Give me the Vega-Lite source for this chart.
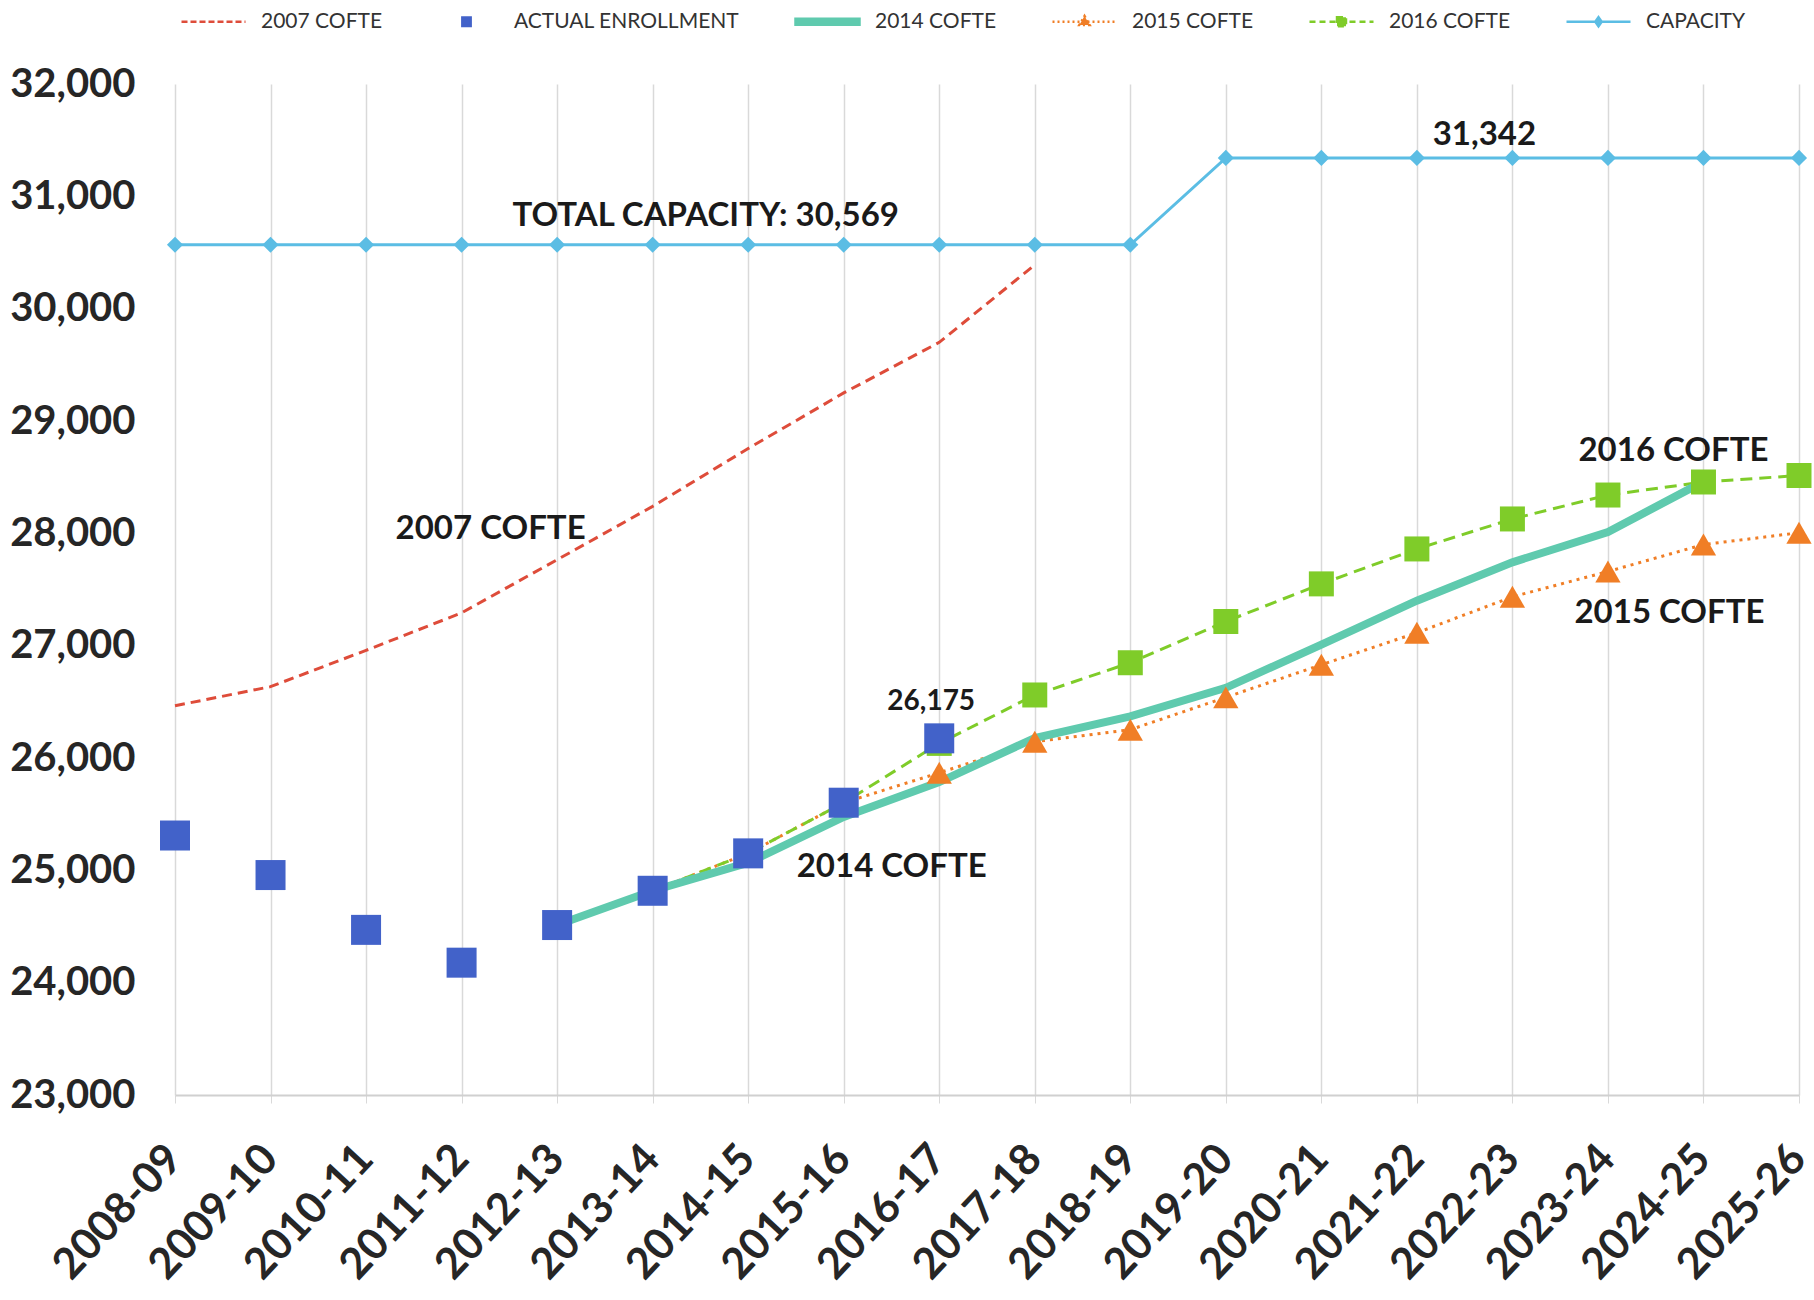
{
  "$schema": "https://vega.github.io/schema/vega-lite/v6.json",
  "width": 1624,
  "height": 1011,
  "autosize": {"type": "none"},
  "padding": {"left": 175, "top": 84, "right": 15, "bottom": 205},
  "background": "white",
  "config": {
    "view": {"stroke": null},
    "font": "Lato"
  },
  "datasets": {
    "series": [
      {"p": "2008-09", "s": "2007 COFTE", "v": 26465},
      {"p": "2009-10", "s": "2007 COFTE", "v": 26635},
      {"p": "2010-11", "s": "2007 COFTE", "v": 26958},
      {"p": "2011-12", "s": "2007 COFTE", "v": 27292},
      {"p": "2012-13", "s": "2007 COFTE", "v": 27765},
      {"p": "2013-14", "s": "2007 COFTE", "v": 28240},
      {"p": "2014-15", "s": "2007 COFTE", "v": 28755},
      {"p": "2015-16", "s": "2007 COFTE", "v": 29250},
      {"p": "2016-17", "s": "2007 COFTE", "v": 29700},
      {"p": "2017-18", "s": "2007 COFTE", "v": 30390},

      {"p": "2008-09", "s": "ACTUAL ENROLLMENT", "v": 25310},
      {"p": "2009-10", "s": "ACTUAL ENROLLMENT", "v": 24958},
      {"p": "2010-11", "s": "ACTUAL ENROLLMENT", "v": 24470},
      {"p": "2011-12", "s": "ACTUAL ENROLLMENT", "v": 24178},
      {"p": "2012-13", "s": "ACTUAL ENROLLMENT", "v": 24513},
      {"p": "2013-14", "s": "ACTUAL ENROLLMENT", "v": 24818},
      {"p": "2014-15", "s": "ACTUAL ENROLLMENT", "v": 25151},
      {"p": "2015-16", "s": "ACTUAL ENROLLMENT", "v": 25602},
      {"p": "2016-17", "s": "ACTUAL ENROLLMENT", "v": 26175},

      {"p": "2012-13", "s": "2014 COFTE", "v": 24513},
      {"p": "2013-14", "s": "2014 COFTE", "v": 24818},
      {"p": "2014-15", "s": "2014 COFTE", "v": 25068},
      {"p": "2015-16", "s": "2014 COFTE", "v": 25475},
      {"p": "2016-17", "s": "2014 COFTE", "v": 25786},
      {"p": "2017-18", "s": "2014 COFTE", "v": 26178},
      {"p": "2018-19", "s": "2014 COFTE", "v": 26370},
      {"p": "2019-20", "s": "2014 COFTE", "v": 26625},
      {"p": "2020-21", "s": "2014 COFTE", "v": 27010},
      {"p": "2021-22", "s": "2014 COFTE", "v": 27400},
      {"p": "2022-23", "s": "2014 COFTE", "v": 27742},
      {"p": "2023-24", "s": "2014 COFTE", "v": 28012},
      {"p": "2024-25", "s": "2014 COFTE", "v": 28460},

      {"p": "2012-13", "s": "2015 COFTE", "v": 24513},
      {"p": "2013-14", "s": "2015 COFTE", "v": 24818},
      {"p": "2014-15", "s": "2015 COFTE", "v": 25151},
      {"p": "2015-16", "s": "2015 COFTE", "v": 25602},
      {"p": "2016-17", "s": "2015 COFTE", "v": 25868},
      {"p": "2017-18", "s": "2015 COFTE", "v": 26145},
      {"p": "2018-19", "s": "2015 COFTE", "v": 26252},
      {"p": "2019-20", "s": "2015 COFTE", "v": 26540},
      {"p": "2020-21", "s": "2015 COFTE", "v": 26830},
      {"p": "2021-22", "s": "2015 COFTE", "v": 27115},
      {"p": "2022-23", "s": "2015 COFTE", "v": 27435},
      {"p": "2023-24", "s": "2015 COFTE", "v": 27660},
      {"p": "2024-25", "s": "2015 COFTE", "v": 27900},
      {"p": "2025-26", "s": "2015 COFTE", "v": 28005},

      {"p": "2012-13", "s": "2016 COFTE", "v": 24513},
      {"p": "2013-14", "s": "2016 COFTE", "v": 24818},
      {"p": "2014-15", "s": "2016 COFTE", "v": 25151},
      {"p": "2015-16", "s": "2016 COFTE", "v": 25602},
      {"p": "2016-17", "s": "2016 COFTE", "v": 26130},
      {"p": "2017-18", "s": "2016 COFTE", "v": 26561},
      {"p": "2018-19", "s": "2016 COFTE", "v": 26848},
      {"p": "2019-20", "s": "2016 COFTE", "v": 27215},
      {"p": "2020-21", "s": "2016 COFTE", "v": 27550},
      {"p": "2021-22", "s": "2016 COFTE", "v": 27861},
      {"p": "2022-23", "s": "2016 COFTE", "v": 28128},
      {"p": "2023-24", "s": "2016 COFTE", "v": 28341},
      {"p": "2024-25", "s": "2016 COFTE", "v": 28457},
      {"p": "2025-26", "s": "2016 COFTE", "v": 28515},

      {"p": "2008-09", "s": "CAPACITY", "v": 30569},
      {"p": "2009-10", "s": "CAPACITY", "v": 30569},
      {"p": "2010-11", "s": "CAPACITY", "v": 30569},
      {"p": "2011-12", "s": "CAPACITY", "v": 30569},
      {"p": "2012-13", "s": "CAPACITY", "v": 30569},
      {"p": "2013-14", "s": "CAPACITY", "v": 30569},
      {"p": "2014-15", "s": "CAPACITY", "v": 30569},
      {"p": "2015-16", "s": "CAPACITY", "v": 30569},
      {"p": "2016-17", "s": "CAPACITY", "v": 30569},
      {"p": "2017-18", "s": "CAPACITY", "v": 30569},
      {"p": "2018-19", "s": "CAPACITY", "v": 30569},
      {"p": "2019-20", "s": "CAPACITY", "v": 31342},
      {"p": "2020-21", "s": "CAPACITY", "v": 31342},
      {"p": "2021-22", "s": "CAPACITY", "v": 31342},
      {"p": "2022-23", "s": "CAPACITY", "v": 31342},
      {"p": "2023-24", "s": "CAPACITY", "v": 31342},
      {"p": "2024-25", "s": "CAPACITY", "v": 31342},
      {"p": "2025-26", "s": "CAPACITY", "v": 31342}
    ]
  },
  "data": {"name": "series"},
  "encoding": {
    "x": {
      "field": "p",
      "type": "ordinal",
      "sort": null,
      "scale": {"type": "point", "padding": 0,
        "domain": ["2008-09","2009-10","2010-11","2011-12","2012-13","2013-14","2014-15","2015-16","2016-17","2017-18","2018-19","2019-20","2020-21","2021-22","2022-23","2023-24","2024-25","2025-26"]},
      "axis": {
        "title": null,
        "labelAngle": -47,
        "labelAlign": "right",
        "labelBaseline": "top",
        "labelFont": "Lato",
        "labelFontWeight": "bold",
        "labelFontSize": 43,
        "labelColor": "#262626",
        "labelPadding": 34,
        "labelOffset": -16,
        "grid": true,
        "gridColor": "#d9d9d9",
        "gridWidth": 1.5,
        "domainColor": "#d0d0d0",
        "domainWidth": 2,
        "ticks": true,
        "tickColor": "#d9d9d9",
        "tickSize": 8,
        "labelOverlap": false,
        "labelBound": false
      }
    },
    "y": {
      "field": "v",
      "type": "quantitative",
      "scale": {"domain": [23000, 32000], "nice": false, "zero": false},
      "axis": {
        "title": null,
        "values": [23000,24000,25000,26000,27000,28000,29000,30000,31000,32000],
        "format": ",d",
        "grid": false,
        "domain": false,
        "ticks": false,
        "labelFont": "Lato",
        "labelFontWeight": "bold",
        "labelFontSize": 40,
        "labelColor": "#262626",
        "labelPadding": 40
      }
    }
  },
  "layer": [
    {
      "transform": [{"filter": "datum.s === 'CAPACITY'"}],
      "mark": {"type": "line", "strokeWidth": 3},
      "encoding": {
        "color": {
          "field": "s",
          "type": "nominal",
          "scale": {
            "domain": ["2007 COFTE", "ACTUAL ENROLLMENT", "2014 COFTE", "2015 COFTE", "2016 COFTE", "CAPACITY"],
            "range": ["#de4c3a", "#4262c9", "#5fcaae", "#f07e26", "#7fcc29", "#5bbde4"]
          },
          "legend": {
            "orient": "none",
            "legendX": 5,
            "legendY": -96,
            "direction": "horizontal",
            "title": null,
            "columns": 6,
            "symbolSize": 4096,
            "symbolStrokeWidth": 2.5,
            "labelFont": "Lato",
            "labelFontSize": 21,
            "labelColor": "#333333",
            "labelOffset": 14,
            "columnPadding": 50,
            "labelLimit": 400,
            "encode": {
              "symbols": {
                "update": {
                  "shape": {"signal": "datum.value === 'ACTUAL ENROLLMENT' ? 'M-0.13,-0.13H0.13V0.13H-0.13Z' : datum.value === '2014 COFTE' ? 'M-1,-0.09H1V0.09H-1Z' : datum.value === '2015 COFTE' ? 'M-1,0H1M0,-0.18L0.16,0.1H-0.16Z' : datum.value === '2016 COFTE' ? 'M-1,0H1M-0.14,-0.14H0.14V0.14H-0.14Z' : datum.value === 'CAPACITY' ? 'M-1,0H1M0,-0.14L0.1,0L0,0.14L-0.1,0Z' : 'M-1,0H1'"},
                  "strokeWidth": {"value": 2.5},
                  "strokeDash": {"signal": "datum.value === '2007 COFTE' ? [6,3] : datum.value === '2015 COFTE' ? [2,3] : datum.value === '2016 COFTE' ? [6,4] : []"},
                  "fill": {"scale": "color", "field": "value"},
                  "stroke": {"scale": "color", "field": "value"},
                  "opacity": {"value": 1},
                  "fillOpacity": {"value": 1},
                  "strokeOpacity": {"value": 1}
                }
              }
            }
          }
        }
      }
    },
    {
      "transform": [{"filter": "datum.s === '2007 COFTE'"}],
      "mark": {"type": "line", "strokeWidth": 3, "strokeDash": [10, 6]},
      "encoding": {"color": {"field": "s", "type": "nominal"}}
    },
    {
      "transform": [{"filter": "datum.s === '2015 COFTE'"}],
      "mark": {"type": "line", "strokeWidth": 3, "strokeDash": [3, 5]},
      "encoding": {"color": {"field": "s", "type": "nominal"}}
    },
    {
      "transform": [{"filter": "datum.s === '2016 COFTE'"}],
      "mark": {"type": "line", "strokeWidth": 3, "strokeDash": [12, 7]},
      "encoding": {"color": {"field": "s", "type": "nominal"}}
    },
    {
      "transform": [{"filter": "datum.s === '2014 COFTE'"}],
      "mark": {"type": "line", "strokeWidth": 8},
      "encoding": {"color": {"field": "s", "type": "nominal"}}
    },
    {
      "transform": [{"filter": "datum.s === 'CAPACITY'"}],
      "mark": {"type": "point", "shape": "diamond", "filled": true, "size": 260, "opacity": 1},
      "encoding": {"color": {"field": "s", "type": "nominal"}}
    },
    {
      "transform": [{"filter": "datum.s === '2015 COFTE'"}],
      "mark": {"type": "point", "shape": "triangle-up", "filled": true, "size": 640, "opacity": 1},
      "encoding": {"color": {"field": "s", "type": "nominal"}}
    },
    {
      "transform": [{"filter": "datum.s === '2016 COFTE'"}],
      "mark": {"type": "point", "shape": "square", "filled": true, "size": 625, "opacity": 1},
      "encoding": {"color": {"field": "s", "type": "nominal"}}
    },
    {
      "transform": [{"filter": "datum.s === 'ACTUAL ENROLLMENT'"}],
      "mark": {"type": "point", "shape": "square", "filled": true, "size": 900, "opacity": 1},
      "encoding": {"color": {"field": "s", "type": "nominal"}}
    },
    {
      "data": {"values": [{"p": "2013-14", "v": 30825, "t": "TOTAL CAPACITY: 30,569"}]},
      "mark": {"type": "text", "font": "Lato", "fontWeight": "bold", "fontSize": 33, "dx": 53, "align": "center", "baseline": "middle"},
      "encoding": {"text": {"field": "t"}, "color": {"value": "#1a1a1a"}}
    },
    {
      "data": {"values": [{"p": "2022-23", "v": 31546, "t": "31,342"}]},
      "mark": {"type": "text", "font": "Lato", "fontWeight": "bold", "fontSize": 33, "dx": -28, "align": "center", "baseline": "middle"},
      "encoding": {"text": {"field": "t"}, "color": {"value": "#1a1a1a"}}
    },
    {
      "data": {"values": [{"p": "2011-12", "v": 28039, "t": "2007 COFTE"}]},
      "mark": {"type": "text", "font": "Lato", "fontWeight": "bold", "fontSize": 33, "dx": 29, "align": "center", "baseline": "middle"},
      "encoding": {"text": {"field": "t"}, "color": {"value": "#1a1a1a"}}
    },
    {
      "data": {"values": [{"p": "2016-17", "v": 26499, "t": "26,175"}]},
      "mark": {"type": "text", "font": "Lato", "fontWeight": "bold", "fontSize": 28, "dx": -8, "align": "center", "baseline": "middle"},
      "encoding": {"text": {"field": "t"}, "color": {"value": "#1a1a1a"}}
    },
    {
      "data": {"values": [{"p": "2015-16", "v": 25030, "t": "2014 COFTE"}]},
      "mark": {"type": "text", "font": "Lato", "fontWeight": "bold", "fontSize": 33, "dx": 48, "align": "center", "baseline": "middle"},
      "encoding": {"text": {"field": "t"}, "color": {"value": "#1a1a1a"}}
    },
    {
      "data": {"values": [{"p": "2024-25", "v": 28733, "t": "2016 COFTE"}]},
      "mark": {"type": "text", "font": "Lato", "fontWeight": "bold", "fontSize": 33, "dx": -30, "align": "center", "baseline": "middle"},
      "encoding": {"text": {"field": "t"}, "color": {"value": "#1a1a1a"}}
    },
    {
      "data": {"values": [{"p": "2024-25", "v": 27291, "t": "2015 COFTE"}]},
      "mark": {"type": "text", "font": "Lato", "fontWeight": "bold", "fontSize": 33, "dx": -34, "align": "center", "baseline": "middle"},
      "encoding": {"text": {"field": "t"}, "color": {"value": "#1a1a1a"}}
    }
  ]
}
